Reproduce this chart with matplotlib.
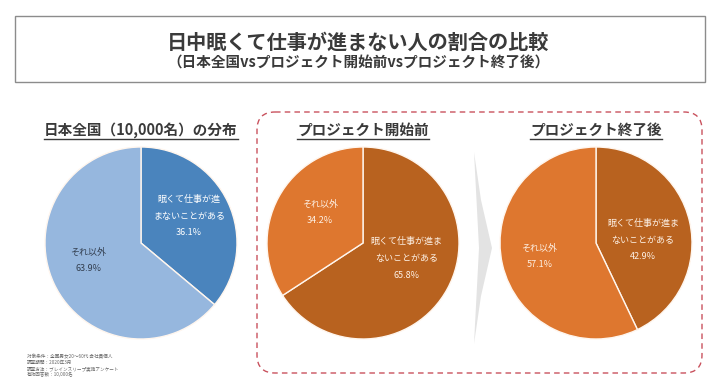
import matplotlib
matplotlib.use("Agg")
import matplotlib.pyplot as plt
from matplotlib.patches import Rectangle, FancyBboxPatch, Polygon

plt.rcParams['font.family'] = ['Noto Sans CJK JP', 'DejaVu Sans']

# data
titles = ['日本全国（10,000名）の分布', 'プロジェクト開始前', 'プロジェクト終了後']
sleepy = [36.1, 65.8, 42.9]
other = [63.9, 34.2, 57.1]
sleepy_label = ['眠くて仕事が進\nまないことがある', '眠くて仕事が進ま\nないことがある', '眠くて仕事が進ま\nないことがある']
other_label = 'それ以外'
notes = ['対象条件：全国男女20～60代 会社員個人', '調査期間：2020年3月',
         '調査方法：ブレインスリープ実施アンケート', '有効回答数：10,000名']

# style
sleepy_colors = ['#4a84bd', '#b8621f', '#b8621f']
other_colors = ['#96b7de', '#de772f', '#de772f']
sleepy_text = ['white', '#fdf0e4', '#fdf0e4']
other_text = ['#333f50', '#fdf0e4', '#fdf0e4']
centers = [(141, 243), (363, 243), (596, 243)]
radius = 96
sleepy_pos = [(0.50, 0.28), (0.45, -0.16), (0.49, 0.03)]
other_pos = [(-0.55, -0.18), (-0.45, 0.32), (-0.59, -0.14)]

W, H = 717, 382
fig = plt.figure(figsize=(W / 100, H / 100), dpi=100)
bg = fig.add_axes([0, 0, 1, 1])
bg.set_xlim(0, W)
bg.set_ylim(H, 0)
bg.axis('off')

# title box
bg.add_patch(Rectangle((15, 16), 690, 66, fill=False, ec='#8c8c8c', lw=1))
bg.text(W / 2, 42, '日中眠くて仕事が進まない人の割合の比較', ha='center', va='center',
        fontsize=14.5, fontweight='bold', color='#3a3a3a')
bg.text(W / 2, 63, '（日本全国vsプロジェクト開始前vsプロジェクト終了後）', ha='center', va='center',
        fontsize=10.5, fontweight='bold', color='#3a3a3a')

# dashed rounded box
bg.add_patch(FancyBboxPatch((257, 112), 445, 261, boxstyle='round,pad=0,rounding_size=18',
                            fill=False, ec='#c9525e', lw=1, ls=(0, (4, 3))))

# middle chevron
bg.add_patch(Polygon([(474, 152), (481, 200), (492, 248), (481, 296), (474, 344), (479, 248)],
                     closed=True, fc='#e3e3e3', ec='none'))

# section titles
for (cx, cy), t in zip(centers, titles):
    bg.text(cx, 130, t, ha='center', va='center', fontsize=10.5, fontweight='bold', color='#3a3a3a')
fig.canvas.draw()
r = fig.canvas.get_renderer()
for t in bg.texts[2:]:
    bb = t.get_window_extent(r)
    bg.plot([bb.x0, bb.x1], [H - bb.y0 + 1, H - bb.y0 + 1], color='#3a3a3a', lw=1)

# pies
half = 100
for i, (cx, cy) in enumerate(centers):
    ax = fig.add_axes([(cx - half) / W, (H - cy - half) / H, 2 * half / W, 2 * half / H])
    lim = half / radius
    ax.pie([sleepy[i], other[i]], startangle=90, counterclock=False,
           colors=[sleepy_colors[i], other_colors[i]],
           wedgeprops=dict(edgecolor='#fff6ee', linewidth=1))
    ax.set_xlim(-lim, lim)
    ax.set_ylim(-lim, lim)
    ax.set_aspect('equal')
    sx, sy = sleepy_pos[i]
    ax.text(sx, sy, f'{sleepy_label[i]}\n{sleepy[i]:.1f}%', ha='center', va='center',
            fontsize=6.5, color=sleepy_text[i], linespacing=2.1)
    ox, oy = other_pos[i]
    ax.text(ox, oy, f'{other_label}\n{other[i]:.1f}%', ha='center', va='center',
            fontsize=6.5, color=other_text[i], linespacing=2.1)

# footnote
for k, n in enumerate(notes):
    bg.text(27, 357 + k * 5.8, n, ha='left', va='center', fontsize=3.3, color='#666666')

fig.savefig('out.png', dpi=100)
